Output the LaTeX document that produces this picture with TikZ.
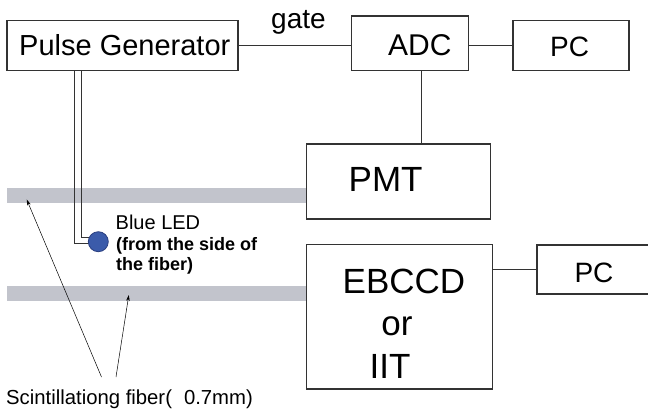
\documentclass[tikz,border=0pt]{standalone}
\usepackage{fontspec}
\setmainfont{Liberation Sans}
\usetikzlibrary{arrows.meta}
\definecolor{linec}{HTML}{333333}
\definecolor{fiberc}{HTML}{C2C4CC}
\definecolor{ledfill}{HTML}{3B5BAA}
\definecolor{ledline}{HTML}{2A3F80}
\tikzset{
  box/.style={draw=linec, line width=1.1pt, fill=white, inner sep=0pt, rectangle},
  conn/.style={draw=linec, line width=0.9pt},
  fiber/.style={fill=fiberc, draw=none, inner sep=0pt, rectangle},
  txt/.style={inner sep=0pt, text=black},
  ptr/.style={draw=black, line width=0.5pt, -{Stealth[length=6pt,width=3.6pt]}},
  ledstyle/.style={circle, fill=ledfill, draw=ledline, line width=0.8pt, minimum size=20pt, inner sep=0pt}
}
\newcommand{\fsz}[1]{\fontsize{#1}{#1}\selectfont}
\begin{document}
\begin{tikzpicture}[x=1pt,y=-1pt]
\useasboundingbox (0,0) rectangle (648,408);
\fill[white] (0,0) rectangle (648,408);

% fibers
\node[fiber, minimum width=300pt, minimum height=15.3pt] (f1) at (157,195.4) {};
\node[fiber, minimum width=300pt, minimum height=15pt] (f2) at (157,293.5) {};

% boxes
\node[box, minimum width=231pt, minimum height=50pt] (PG) at (122.5,45.7) {};
\node[box, minimum width=117pt, minimum height=54.7pt] (ADC) at (410.2,43.35) {};
\node[box, minimum width=116pt, minimum height=50pt] (PC) at (571,45.7) {};
\node[box, minimum width=184pt, minimum height=75pt] (PMT) at (398.7,181.5) {};
\node[box, minimum width=186pt, minimum height=144.3pt] (EB) at (399.7,316.85) {};
\node[box, minimum width=114pt, minimum height=49pt] (PC2) at (594,269.5) {};

% connectors
\draw[conn] (PG.east) -- (ADC.west |- PG.east);
\draw[conn] (ADC.east |- PC.west) -- (PC.west);
\coordinate (adcx) at (421.7,0);
\draw[conn] (ADC.south -| adcx) -- (PMT.north -| adcx);
\draw[conn] (EB.east |- PC2.west) -- (PC2.west);

% LED wires
\coordinate (ledc) at (98.3,241.7);
\coordinate (c1) at (74.5,243);
\coordinate (c2) at (81.5,237.2);
\draw[conn, line width=0.7pt] (PG.south -| c1) -- (c1) -- (c1 -| ledc);
\draw[conn, line width=0.7pt] (PG.south -| c2) -- (c2) -- (c2 -| ledc);
\node[ledstyle] (led) at (ledc) {};

% texts
\node[txt, anchor=base west] (tPG) at (19,55.7) {\fsz{29}Pulse Generator};
\node[txt, anchor=base west] (tgate) at (271,28.3) {\fsz{28}gate};
\node[txt, anchor=base west] (tADC) at (388,55) {\fsz{30}ADC};
\node[txt, anchor=base west] (tPC) at (550,56.7) {\fsz{28}PC};
\node[txt, anchor=base west] (tPMT) at (348.5,191.7) {\fsz{35}PMT};
\node[txt, anchor=base] (tEB) at (404,293.3) {\fsz{35}EBCCD};
\node[txt, anchor=base] (tor) at (397,335) {\fsz{35}or};
\node[txt, anchor=base] (tIIT) at (390,378) {\fsz{35}IIT};
\node[txt, anchor=base] (tPC2) at (594,282.7) {\fsz{28}PC};
\node[txt, anchor=base west] (tled) at (115.5,229) {\fsz{20}Blue LED};
\node[txt, anchor=base west] (tled2) at (116,250) {\fsz{18}\bfseries (from the side of};
\node[txt, anchor=base west] (tled3) at (116,270) {\fsz{18}\bfseries the fiber)};
\node[txt, anchor=base west] (tsci) at (6,404) {\fsz{20.3}Scintillationg fiber(\hspace{12pt}0.7mm)};

% pointers
\coordinate (p1s) at (101.5,377);
\coordinate (p1e) at (26.7,199.5);
\coordinate (p2s) at (116,377);
\coordinate (p2e) at (128.8,295);
\draw[ptr] (p1s) -- (p1e);
\draw[ptr] (p2s) -- (p2e);
\end{tikzpicture}
\end{document}
